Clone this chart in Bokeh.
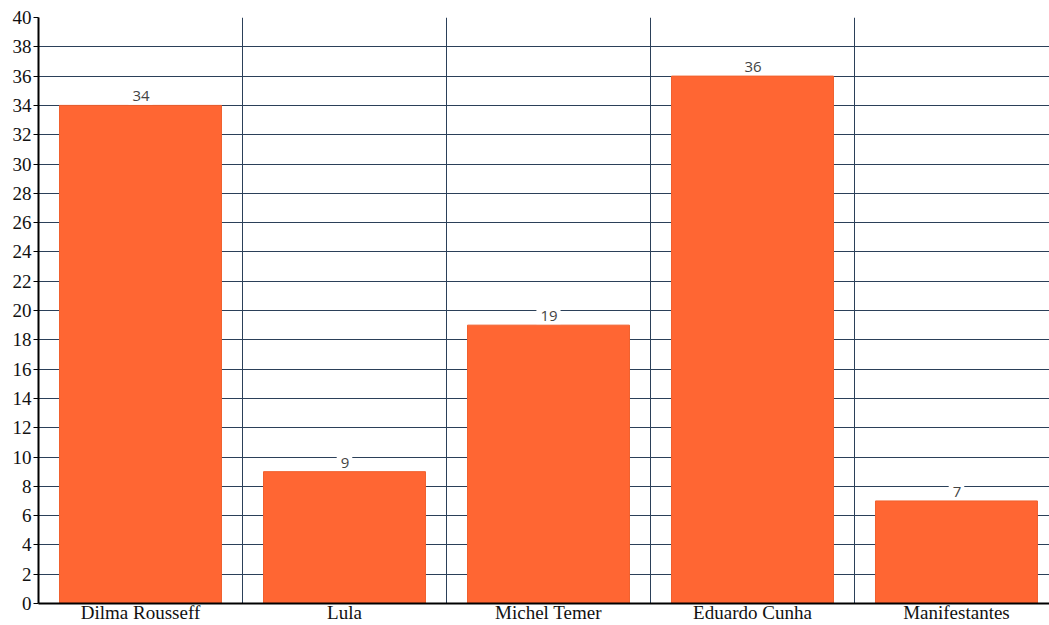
from bokeh.plotting import figure
from bokeh.models import Range1d, FixedTicker, Grid, ColumnDataSource
from bokeh.core.properties import value
from bokeh.embed import file_html
from bokeh.resources import INLINE

categories = ["Dilma Rousseff", "Lula", "Michel Temer", "Eduardo Cunha", "Manifestantes"]
counts = [34, 9, 19, 36, 7]
y_ticks = list(range(0, 41, 2))

centers = [i + 0.5 for i in range(len(categories))]
src = ColumnDataSource(dict(x=centers, top=counts, label=[str(c) for c in counts]))

GRID = "#2b4059"
BAR = "#ff6633"

p = figure(width=1049, height=625, output_backend="svg", toolbar_location=None,
           x_range=Range1d(0, 4.956), y_range=Range1d(0, 40),
           min_border_left=38, min_border_right=0, min_border_top=17, min_border_bottom=0)
p.outline_line_color = None
p.background_fill_color = "white"
p.border_fill_color = "white"

# grids: horizontal every 2 units, vertical at category boundaries
p.xgrid.visible = False
p.ygrid.ticker = FixedTicker(ticks=y_ticks)
p.ygrid.grid_line_color = GRID
p.ygrid.grid_line_width = 1
p.add_layout(Grid(dimension=0, ticker=FixedTicker(ticks=[1, 2, 3, 4, 5]),
                  grid_line_color=GRID, grid_line_width=1))

p.vbar(x="x", top="top", width=0.794, bottom=0, source=src,
       fill_color=BAR, line_color="#f0602e", line_width=1)

p.text(x="x", y="top", text="label", source=src,
       text_align="center", text_baseline="bottom",
       text_font=value("Open Sans"), text_font_size="15px", text_color="#444444",
       background_fill_color="white", padding=[4, 3, 4, 3], y_offset=-1)

# y axis
p.yaxis.ticker = FixedTicker(ticks=y_ticks)
p.yaxis.axis_line_color = "black"
p.yaxis.axis_line_width = 2
p.yaxis.major_tick_line_color = "black"
p.yaxis.major_tick_out = 5
p.yaxis.major_tick_in = 0
p.yaxis.minor_tick_line_color = None
p.yaxis.major_label_standoff = 2
p.yaxis.major_label_text_font = "Liberation Serif"
p.yaxis.major_label_text_font_size = "19px"
p.yaxis.major_label_text_color = "#111111"

# x axis: names under bar centres
p.xaxis.ticker = FixedTicker(ticks=centers)
p.xaxis.major_label_overrides = {c: n for c, n in zip(centers, categories)}
p.xaxis.axis_line_color = "black"
p.xaxis.axis_line_width = 2
p.xaxis.major_tick_line_color = None
p.xaxis.major_tick_out = 0
p.xaxis.major_tick_in = 0
p.xaxis.minor_tick_line_color = None
p.xaxis.minor_tick_out = 0
p.xaxis.minor_tick_in = 0
p.xaxis.major_label_standoff = -2
p.xaxis.major_label_text_font = "Liberation Serif"
p.xaxis.major_label_text_font_size = "19px"
p.xaxis.major_label_text_color = "#111111"

open("out.html", "w").write(file_html(p, INLINE))
